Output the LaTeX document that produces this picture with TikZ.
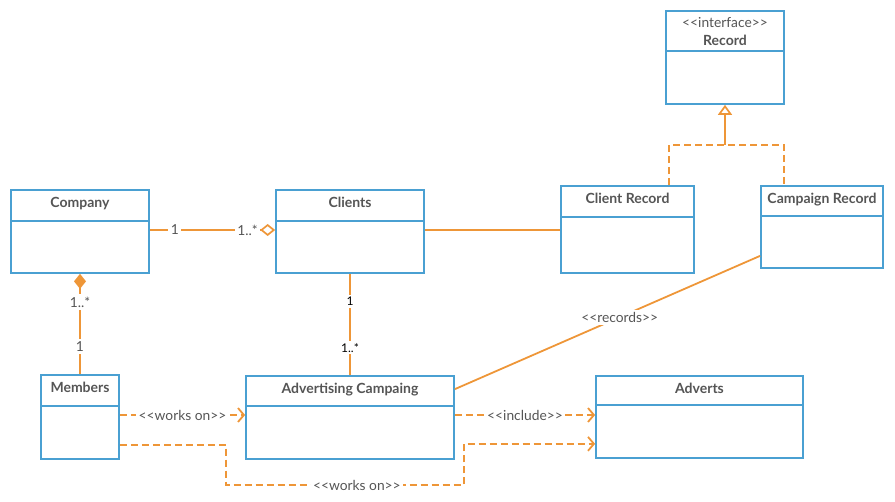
\documentclass[tikz,border=0pt]{standalone}
\usepackage{fontspec}
\setmainfont{Lato}[Ligatures=TeXOff]
\usepackage{tikz}
\usetikzlibrary{arrows.meta, positioning, calc}
\definecolor{boxblue}{RGB}{74, 160, 210}
\definecolor{linkorange}{RGB}{238, 150, 56}
\definecolor{textgray}{RGB}{85, 85, 85}
\tikzset{
    classbox/.style={
        rectangle,
        draw=boxblue,
        fill=white,
        line width=1.7pt,
        inner sep=0pt
    },
    classname/.style={
        font=\bfseries\fontsize{14}{16}\selectfont,
        text=textgray,
        inner sep=0pt,
        align=center
    },
    divider/.style={
        draw=boxblue,
        line width=1.7pt
    },
    assoc/.style={
        draw=linkorange,
        line width=1.8pt
    },
    depend/.style={
        draw=linkorange,
        line width=1.8pt,
        dashed,
        dash pattern=on 7pt off 4pt,
        -{Straight Barb[length=6pt, width=14pt, line width=1.8pt]}
    },
    lbl/.style={
        font=\fontsize{13.8}{15}\selectfont,
        text=textgray,
        fill=white,
        inner sep=2.5pt
    },
    mult/.style={
        font=\fontsize{12}{13}\selectfont,
        fill=white,
        inner sep=2pt
    }
}

\begin{document}
\begin{tikzpicture}[x=1pt, y=-1pt]
    \useasboundingbox (0,0) rectangle (895,502);

    % class boxes, placed at their centres
    \node[classbox, minimum width=118pt, minimum height=93pt] (record)  at (725,57.5)  {};
    \node[classbox, minimum width=138pt, minimum height=83pt] (company) at (80,231.5)  {};
    \node[classbox, minimum width=148pt, minimum height=83pt] (clients) at (350,231.5) {};
    \node[classbox, minimum width=133pt, minimum height=87pt] (clientrec) at (627.5,229.5) {};
    \node[classbox, minimum width=122pt, minimum height=82pt] (camprec) at (822,227) {};
    \node[classbox, minimum width=78pt,  minimum height=84pt] (members) at (80,417) {};
    \node[classbox, minimum width=208pt, minimum height=83pt] (advcamp) at (350,417.5) {};
    \node[classbox, minimum width=207pt, minimum height=82pt] (adverts) at (699.5,417) {};

    % header / body split of every class
    \foreach \cls/\head in {record/41, company/32, clients/32, clientrec/32,
                            camprec/31, members/32, advcamp/31, adverts/30}
        \draw[divider] ($(\cls.north west)+(0pt,-\head pt)$) -- ($(\cls.north east)+(0pt,-\head pt)$);

    % class names
    \node[classname, below=7.5pt of record.north] (recordT)
        {\mdseries\fontsize{13.8}{15}\selectfont <<interface>>\\[2pt]Record};
    \node[classname, below=7.5pt of company.north] (companyT) {Company};
    \node[classname, below=7.5pt of clients.north] (clientsT) {Clients};
    \node[classname, below=7.5pt of clientrec.north] (clientrecT) {Client Record};
    \node[classname, below=7.5pt of camprec.north] (camprecT) {Campaign Record};
    \node[classname, below=7.5pt of members.north] (membersT) {Members};
    \node[classname, below=7.5pt of advcamp.north] (advcampT) {Advertising Campaing};
    \node[classname, below=7.5pt of adverts.north] (advertsT) {Adverts};

    % realisation of the Record interface
    \coordinate (joint) at (725,145);
    \draw[assoc, dashed, dash pattern=on 7pt off 4pt]
        ($(clientrec.north west)+(109pt,0pt)$) |- (joint) -| ($(camprec.north west)+(24pt,0pt)$);
    \draw[assoc, -{Triangle[open, length=10pt, width=14pt, line width=1.7pt, fill=white]}]
        (joint) -- (record.south);

    % associations
    \draw[assoc, -{Diamond[open, length=15pt, width=12pt, line width=1.7pt, fill=white]}]
        ($(company.east)+(0pt,1.5pt)$) -- node[lbl, pos=0.2] {1} node[lbl, pos=0.78] {1..*}
        ($(clients.west)+(0pt,1.5pt)$);
    \draw[assoc] ($(clients.east)+(0pt,1.5pt)$) -- ($(clientrec.west)+(0pt,-0.5pt)$);
    \draw[assoc, {Diamond[length=15pt, width=12pt]}-]
        (company.south) -- node[lbl, pos=0.28] {1..*} node[lbl, pos=0.72] {1} (members.north);
    \draw[assoc]
        (clients.south) -- node[mult, pos=0.27] {1} node[mult, pos=0.73] {1..*} (advcamp.north);
    \draw[assoc]
        ($(camprec.south west)+(0pt,13pt)$) -- node[lbl, pos=0.46] {<<records>>}
        ($(advcamp.north east)+(0pt,-14pt)$);

    % dependencies
    \draw[depend] ($(members.east)+(0pt,2pt)$) -- node[lbl, pos=0.5] {<<works on>>}
        ($(advcamp.west)+(0pt,2.5pt)$);
    \draw[depend] ($(advcamp.east)+(0pt,2.5pt)$) -- node[lbl, pos=0.5] {<<include>>}
        ($(adverts.west)+(0pt,2pt)$);
    \coordinate (detour1) at (226,485);
    \coordinate (detour2) at (464,485);
    \draw[depend] ($(members.south east)+(0pt,15pt)$) -| (detour1)
        -- node[lbl, pos=0.55] {<<works on>>} (detour2)
        |- ($(adverts.south west)+(0pt,15pt)$);
\end{tikzpicture}
\end{document}
